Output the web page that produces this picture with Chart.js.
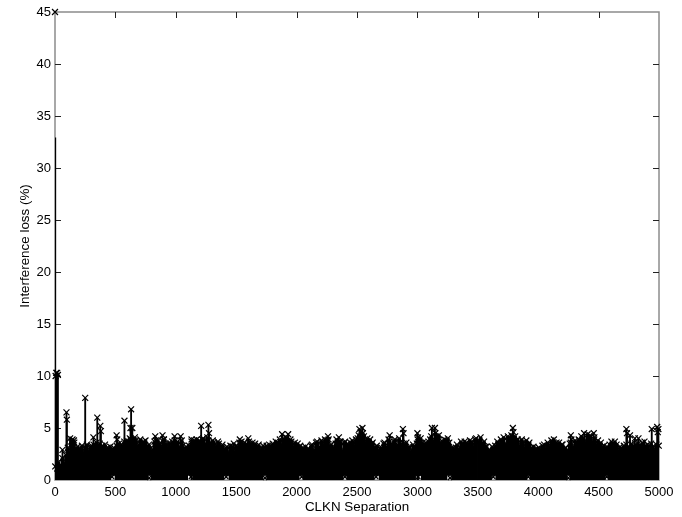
<!DOCTYPE html>
<html>
<head>
<meta charset="utf-8">
<title>Interference loss</title>
<script src="https://cdn.jsdelivr.net/npm/chart.js@4"></script>
<style>
    html, body { margin: 0; padding: 0; background: #fff; }
    #box { width: 682px; height: 517px; }
</style>
</head>
<body>
<div id="box"><canvas id="grafico" width="682" height="517"></canvas></div>
<script>
const xTicks = [0, 500, 1000, 1500, 2000, 2500, 3000, 3500, 4000, 4500, 5000];
const yTicks = [0, 5, 10, 15, 20, 25, 30, 35, 40, 45];

// the solid mass of stems, seven readings per 100 CLKN
const bulkSeparation = [
    2, 19, 27, 44, 61, 70, 91,
    106, 114, 135, 149, 157, 178, 186,
    209, 223, 230, 252, 264, 273, 295,
    302, 319, 327, 344, 361, 370, 391,
    406, 414, 435, 449, 457, 478, 486,
    509, 523, 530, 552, 564, 573, 595,
    602, 619, 627, 644, 661, 670, 691,
    706, 714, 735, 749, 757, 778, 786,
    809, 823, 830, 852, 864, 873, 895,
    902, 919, 927, 944, 961, 970, 991,
    1006, 1014, 1035, 1049, 1057, 1078, 1086,
    1109, 1123, 1130, 1152, 1164, 1173, 1195,
    1202, 1219, 1227, 1244, 1261, 1270, 1291,
    1306, 1314, 1335, 1349, 1357, 1378, 1386,
    1409, 1423, 1430, 1452, 1464, 1473, 1495,
    1502, 1519, 1527, 1544, 1561, 1570, 1591,
    1606, 1614, 1635, 1649, 1657, 1678, 1686,
    1709, 1723, 1730, 1752, 1764, 1773, 1795,
    1802, 1819, 1827, 1844, 1861, 1870, 1891,
    1906, 1914, 1935, 1949, 1957, 1978, 1986,
    2009, 2023, 2030, 2052, 2064, 2073, 2095,
    2102, 2119, 2127, 2144, 2161, 2170, 2191,
    2206, 2214, 2235, 2249, 2257, 2278, 2286,
    2309, 2323, 2330, 2352, 2364, 2373, 2395,
    2402, 2419, 2427, 2444, 2461, 2470, 2491,
    2506, 2514, 2535, 2549, 2557, 2578, 2586,
    2609, 2623, 2630, 2652, 2664, 2673, 2695,
    2702, 2719, 2727, 2744, 2761, 2770, 2791,
    2806, 2814, 2835, 2849, 2857, 2878, 2886,
    2909, 2923, 2930, 2952, 2964, 2973, 2995,
    3002, 3019, 3027, 3044, 3061, 3070, 3091,
    3106, 3114, 3135, 3149, 3157, 3178, 3186,
    3209, 3223, 3230, 3252, 3264, 3273, 3295,
    3302, 3319, 3327, 3344, 3361, 3370, 3391,
    3406, 3414, 3435, 3449, 3457, 3478, 3486,
    3509, 3523, 3530, 3552, 3564, 3573, 3595,
    3602, 3619, 3627, 3644, 3661, 3670, 3691,
    3706, 3714, 3735, 3749, 3757, 3778, 3786,
    3809, 3823, 3830, 3852, 3864, 3873, 3895,
    3902, 3919, 3927, 3944, 3961, 3970, 3991,
    4006, 4014, 4035, 4049, 4057, 4078, 4086,
    4109, 4123, 4130, 4152, 4164, 4173, 4195,
    4202, 4219, 4227, 4244, 4261, 4270, 4291,
    4306, 4314, 4335, 4349, 4357, 4378, 4386,
    4409, 4423, 4430, 4452, 4464, 4473, 4495,
    4502, 4519, 4527, 4544, 4561, 4570, 4591,
    4606, 4614, 4635, 4649, 4657, 4678, 4686,
    4709, 4723, 4730, 4752, 4764, 4773, 4795,
    4802, 4819, 4827, 4844, 4861, 4870, 4891,
    4906, 4914, 4935, 4949, 4957, 4978, 4998
];
const bulkLoss = [
    1.3, 1.1, 1.7, 1.4, 2.1, 1.6, 2.4,
    3.1, 2.6, 3.7, 3.2, 3.8, 3.0, 3.2,
    3.0, 3.3, 2.7, 3.1, 3.4, 2.8, 3.2,
    3.3, 3.4, 2.9, 3.6, 3.1, 3.5, 3.3,
    3.0, 3.4, 3.1, 2.7, 3.2, 2.8, 3.1,
    3.3, 2.9, 3.5, 3.4, 3.0, 3.7, 3.8,
    3.4, 4.0, 3.9, 3.5, 4.1, 3.8, 3.4,
    3.9, 3.4, 3.7, 3.8, 3.2, 3.4, 3.0,
    2.9, 3.7, 3.3, 3.8, 3.5, 3.2, 3.7,
    3.9, 3.5, 3.1, 3.6, 3.2, 3.7, 3.8,
    3.5, 3.7, 3.2, 3.8, 3.3, 2.9, 3.2,
    3.3, 3.1, 3.7, 3.8, 3.4, 3.9, 3.8,
    3.6, 3.9, 4.0, 3.5, 4.1, 3.8, 3.6,
    3.8, 3.6, 3.3, 3.7, 3.5, 3.1, 3.4,
    3.0, 3.2, 2.7, 3.3, 2.9, 3.2, 2.8,
    3.3, 3.1, 3.6, 3.7, 3.2, 3.6, 3.4,
    3.7, 3.4, 3.6, 3.2, 3.5, 2.9, 3.4,
    3.0, 3.3, 2.8, 3.3, 3.1, 3.4, 3.0,
    3.5, 3.2, 3.7, 3.6, 3.9, 3.4, 4.0,
    3.8, 4.1, 3.5, 3.9, 3.7, 3.2, 3.6,
    3.5, 3.0, 3.3, 3.1, 2.8, 3.2, 2.9,
    3.0, 3.3, 3.4, 2.9, 3.6, 3.7, 3.2,
    3.8, 3.5, 3.9, 3.4, 3.8, 3.3, 3.4,
    3.1, 3.5, 3.9, 3.4, 3.7, 2.9, 3.6,
    3.7, 3.5, 3.2, 3.6, 3.8, 3.4, 3.9,
    4.0, 4.3, 4.1, 4.5, 4.2, 3.7, 4.0,
    3.9, 3.5, 3.6, 3.1, 3.3, 2.9, 3.0,
    3.1, 3.5, 3.6, 3.2, 3.9, 3.7, 3.4,
    3.7, 3.9, 3.4, 4.0, 3.6, 3.1, 3.5,
    3.6, 3.0, 3.2, 2.8, 3.4, 3.1, 3.5,
    3.9, 3.5, 4.0, 3.6, 3.2, 3.6, 3.7,
    3.9, 4.2, 3.8, 4.5, 4.2, 4.3, 3.6,
    3.7, 3.9, 3.4, 4.0, 3.6, 3.0, 3.1,
    2.9, 3.1, 3.4, 3.0, 3.7, 3.4, 3.7,
    3.6, 3.4, 3.8, 3.7, 3.3, 3.9, 4.0,
    3.7, 4.1, 3.5, 3.7, 3.2, 3.2, 2.9,
    2.8, 3.2, 2.7, 3.3, 3.7, 3.4, 3.9,
    3.7, 4.1, 3.5, 4.2, 3.9, 4.3, 3.8,
    4.2, 3.8, 3.9, 3.4, 3.9, 3.6, 3.2,
    3.8, 3.4, 3.6, 3.1, 3.2, 2.9, 3.0,
    3.1, 2.9, 3.3, 3.4, 3.0, 3.6, 3.3,
    3.8, 3.4, 3.9, 3.6, 3.2, 3.6, 3.4,
    3.4, 3.0, 3.1, 2.8, 3.5, 3.6, 3.2,
    3.8, 3.4, 3.9, 3.5, 4.2, 4.0, 3.7,
    4.4, 4.1, 4.3, 3.7, 3.9, 3.5, 3.8,
    3.4, 3.6, 3.0, 3.3, 2.9, 3.2, 3.4,
    3.7, 3.3, 3.7, 3.4, 2.9, 3.2, 3.0,
    3.3, 3.0, 3.4, 3.2, 2.8, 3.5, 3.2,
    3.4, 3.1, 3.5, 3.3, 3.6, 2.9, 3.3,
    3.4, 3.0, 3.5, 3.2, 2.9, 3.4, 3.3
];

// the isolated peaks that stand out of the mass
const peakSeparation = [
    5, 10, 18, 24, 62, 95, 98, 125, 145, 160, 250, 318, 350, 375, 380, 510, 515, 575, 625, 630, 640,
    830, 835, 890, 900, 990, 1040, 1130, 1210, 1270, 1275, 1480, 1530, 1600, 1880, 1930, 2260, 2265,
    2350, 2355, 2520, 2530, 2545, 2770, 2880, 2885, 3000, 3005, 3120, 3145, 3240, 3790, 3795, 4270,
    4275, 4380, 4460, 4465, 4730, 4735, 4760, 4800, 4830, 4880, 4940, 4985, 4990, 4995
];
const peakLoss = [
    10.0, 10.3, 10.3, 10.1, 2.9, 6.5, 5.8, 4.0, 3.9, 3.6, 7.9, 4.1, 6.0, 5.2, 4.7, 4.3, 3.9, 5.7, 5.0, 6.8, 5.0,
    4.2, 3.8, 4.3, 3.9, 4.2, 4.2, 3.9, 5.2, 5.3, 4.5, 3.5, 3.9, 4.0, 4.4, 4.4, 4.2, 3.9,
    4.1, 3.7, 4.9, 4.6, 5.0, 4.3, 4.9, 4.5, 4.5, 4.1, 5.0, 5.0, 3.8, 5.0, 4.6, 4.3,
    3.9, 4.5, 4.5, 4.1, 4.9, 4.5, 4.3, 4.0, 4.0, 3.7, 4.9, 5.1, 4.6, 4.9
];

// tall line at the very start and the lone cross in the top corner
const tallStemSeparation = [2];
const tallStemLoss = [32.9];
const cornerSeparation = [0];
const cornerLoss = [45];

// low crosses sitting in the small pale notches along the baseline
const notchSeparation = [472, 780, 1125, 1417, 1738, 2042, 2400, 2658, 3007, 3270, 3628, 3918, 4250, 4568];
const notchLoss = [0.3, 0.2, 0.3, 0.3, 0.2, 0.3, 0.3, 0.3, 0.3, 0.2, 0.3, 0.3, 0.2, 0.3];
const notchTop = 0.45;
const notchHalfWidth = 22;

function pares(xs, ys) {
    return xs.map((x, i) => ({ x: x, y: ys[i] }));
}

// stems inside a notch do not reach the baseline
function hastes(xs, ys) {
    return xs.map((x, i) => {
        const dentro = notchSeparation.some(n => Math.abs(n - x) < notchHalfWidth);
        return { x: x, y: dentro ? [notchTop, ys[i]] : ys[i] };
    });
}

// MATLAB style frame with the ticks pointing inwards
const molduraPlugin = {
    id: 'moldura',
    beforeDatasetsDraw(chart) {
        const { ctx, chartArea: a, scales } = chart;
        ctx.save();
        ctx.strokeStyle = '#8c8c8c';
        ctx.lineWidth = 1.5;
        ctx.strokeRect(a.left, a.top, a.right - a.left, a.bottom - a.top);
        ctx.strokeStyle = '#222';
        ctx.lineWidth = 1;
        ctx.beginPath();
        xTicks.slice(1, -1).forEach(v => {
            const px = Math.round(scales.x.getPixelForValue(v)) + 0.5;
            ctx.moveTo(px, a.top);
            ctx.lineTo(px, a.top + 6);
            ctx.moveTo(px, a.bottom);
            ctx.lineTo(px, a.bottom - 6);
        });
        yTicks.slice(1, -1).forEach(v => {
            const py = Math.round(scales.y.getPixelForValue(v)) + 0.5;
            ctx.moveTo(a.left, py);
            ctx.lineTo(a.left + 6, py);
            ctx.moveTo(a.right, py);
            ctx.lineTo(a.right - 6, py);
        });
        ctx.stroke();
        ctx.restore();
    }
};

const marcador = {
    type: 'scatter',
    showLine: false,
    pointStyle: 'crossRot',
    pointRadius: 4.2,
    pointBorderWidth: 1.2,
    borderColor: '#000',
    backgroundColor: '#000',
    clip: false
};

const ctx = document.getElementById('grafico').getContext('2d');
new Chart(ctx, {
    type: 'bar',
    data: {
        datasets: [
            { data: hastes(bulkSeparation, bulkLoss), backgroundColor: '#000', barThickness: 3, grouped: false },
            { data: pares(peakSeparation, peakLoss), backgroundColor: '#000', barThickness: 1.2, grouped: false },
            { data: pares(tallStemSeparation, tallStemLoss), backgroundColor: '#000', barThickness: 1.2, grouped: false },
            Object.assign({ data: pares(bulkSeparation, bulkLoss) }, marcador),
            Object.assign({ data: pares(peakSeparation, peakLoss) }, marcador),
            Object.assign({ data: pares(notchSeparation, notchLoss) }, marcador, { pointRadius: 3 }),
            Object.assign({ data: pares(cornerSeparation, cornerLoss) }, marcador)
        ]
    },
    options: {
        responsive: false,
        animation: false,
        layout: { padding: { top: 12, right: 23, left: 0, bottom: 0 } },
        plugins: { legend: { display: false }, tooltip: { enabled: false } },
        scales: {
            x: {
                type: 'linear',
                offset: false,
                min: 0,
                max: 5000,
                grid: { display: false, tickLength: 0 },
                border: { display: false },
                afterBuildTicks: s => { s.ticks = xTicks.map(v => ({ value: v })); },
                afterFit: s => { s.height = 37; },
                ticks: {
                    autoSkip: false,
                    maxRotation: 0,
                    padding: 5,
                    color: '#000',
                    font: { family: 'Liberation Sans', size: 13 },
                    callback: v => String(v)
                },
                title: {
                    display: true,
                    text: 'CLKN Separation',
                    color: '#000',
                    padding: { top: 0, bottom: 2 },
                    font: { family: 'Liberation Sans', size: 13.4 }
                }
            },
            y: {
                min: 0,
                max: 45,
                grid: { display: false, tickLength: 0 },
                border: { display: false },
                afterBuildTicks: s => { s.ticks = yTicks.map(v => ({ value: v })); },
                afterFit: s => { s.width = 55; },
                ticks: {
                    autoSkip: false,
                    padding: 4,
                    color: '#000',
                    font: { family: 'Liberation Sans', size: 13 },
                    callback: v => String(v)
                },
                title: {
                    display: true,
                    text: 'Interference loss (%)',
                    color: '#000',
                    padding: { top: 17, bottom: 0 },
                    font: { family: 'Liberation Sans', size: 13.4 }
                }
            }
        }
    },
    plugins: [molduraPlugin]
});
</script>
</body>
</html>
